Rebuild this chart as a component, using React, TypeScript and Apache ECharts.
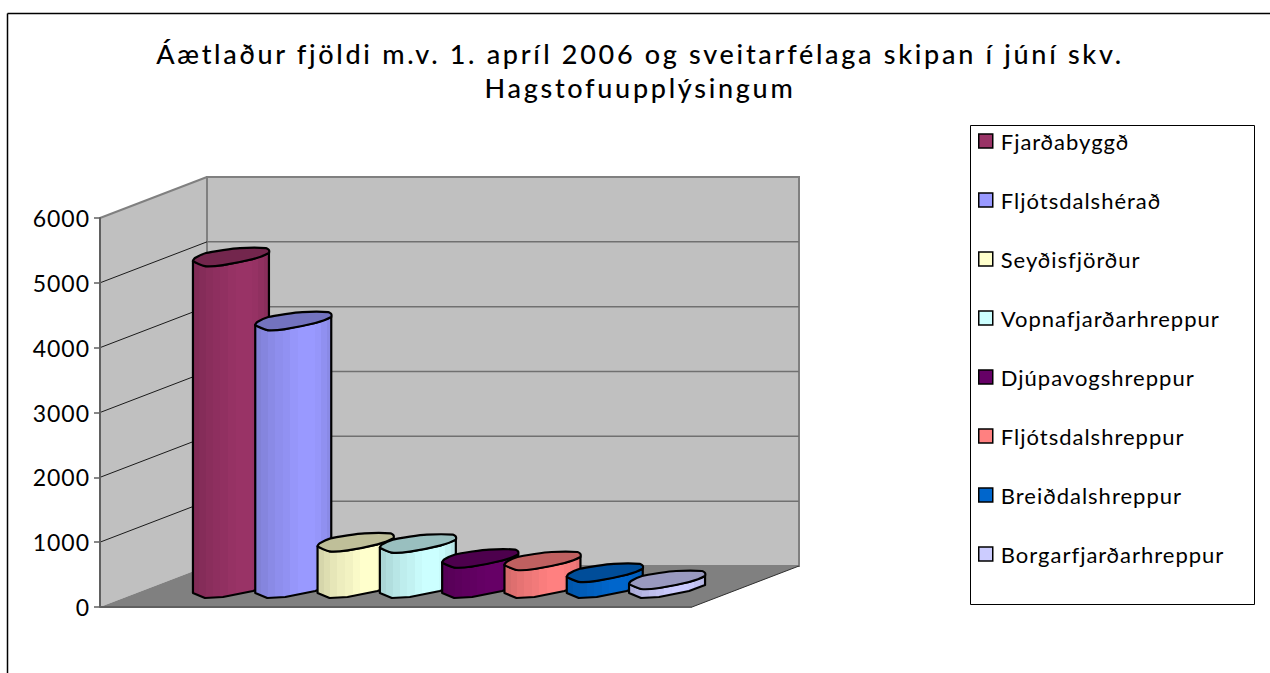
import React, { useEffect, useRef } from "react";
import * as echarts from "echarts";

const titleText = "Áætlaður fjöldi m.v. 1. apríl 2006 og sveitarfélaga skipan í júní skv.\nHagstofuupplýsingum";
const municipalities = ["Fjarðabyggð", "Fljótsdalshérað", "Seyðisfjörður", "Vopnafjarðarhreppur", "Djúpavogshreppur", "Fljótsdalshreppur", "Breiðdalshreppur", "Borgarfjarðarhreppur"];
const population = [5120, 4133, 720, 700, 470, 432, 250, 139];
const barColors = ["#993366", "#9999FF", "#FFFFCC", "#CCFFFF", "#660066", "#FF8080", "#0066CC", "#CCCCFF"];
const yTicks = [0, 1000, 2000, 3000, 4000, 5000, 6000];

const GRID = { left: 100, top: 218, width: 592, height: 389 };
const DEPTH_X = 107;
const DEPTH_Y = 41;
const SLOT = 62.3;
const FONT = "Lato";

// bar cross-section relative to its centre
const backEdge = [[-38, 5], [-36, 2], [-25, -3], [-8, -6], [9, -8], [35, -8], [38, -6]];
const frontEdge = [[38, -3], [22, 3], [-8, 9], [-26, 10], [-38, 5]];

function shade(hex: string, f: number) {
  const n = parseInt(hex.slice(1), 16);
  const c = [(n >> 16) & 255, (n >> 8) & 255, n & 255].map((v) => Math.round(v * f));
  return `rgb(${c[0]},${c[1]},${c[2]})`;
}

function bandedFill(hex: string) {
  const bands = [0.84, 0.87, 0.9, 0.93, 0.95, 0.98, 1, 1, 0.98, 0.94, 0.9];
  const widths = [0.08, 0.09, 0.09, 0.1, 0.1, 0.1, 0.12, 0.1, 0.08, 0.08, 0.06];
  const stops: any[] = [];
  let at = 0;
  bands.forEach((f, i) => {
    const end = Math.min(1, at + widths[i]);
    stops.push({ offset: at, color: shade(hex, f) });
    stops.push({ offset: end, color: shade(hex, f) });
    at = end;
  });
  return new echarts.graphic.LinearGradient(0, 0, 1, 0, stops);
}

const wallSeries = {
  type: "custom",
  silent: true,
  z: 1,
  data: [[0, 0]],
  renderItem: (_: any, api: any) => {
    const [cx, y0] = api.coord([0, 0]);
    const [, yMax] = api.coord([0, 6000]);
    const band = api.size([1, 0])[0];
    const x0 = cx - band / 2;
    const x1 = cx + band / 2;
    const bx0 = x0 + DEPTH_X;
    const bx1 = x1 + DEPTH_X;
    const children: any[] = [
      { type: "polygon", shape: { points: [[x0, y0], [x0, yMax], [bx0, yMax - DEPTH_Y], [bx0, y0 - DEPTH_Y]] }, style: { fill: "#C0C0C0" } },
      { type: "polygon", shape: { points: [[bx0, y0 - DEPTH_Y], [bx0, yMax - DEPTH_Y], [bx1, yMax - DEPTH_Y], [bx1, y0 - DEPTH_Y]] }, style: { fill: "#C0C0C0", stroke: "#808080", lineWidth: 2 } },
      { type: "polygon", shape: { points: [[x0, y0], [bx0, y0 - DEPTH_Y], [bx1, y0 - DEPTH_Y], [x1, y0]] }, style: { fill: "#808080" } },
      { type: "line", shape: { x1: x0, y1: yMax, x2: bx0, y2: yMax - DEPTH_Y }, style: { stroke: "#808080", lineWidth: 2 } },
      { type: "line", shape: { x1: x1, y1: y0, x2: bx1, y2: y0 - DEPTH_Y }, style: { stroke: "#303030", lineWidth: 1 } },
      { type: "line", shape: { x1: x0, y1: y0, x2: x1, y2: y0 }, style: { stroke: "#606060", lineWidth: 2 } },
    ];
    yTicks.slice(1, -1).forEach((t) => {
      const [, y] = api.coord([0, t]);
      children.push({ type: "line", shape: { x1: x0, y1: y, x2: bx0, y2: y - DEPTH_Y }, style: { stroke: "#1a1a1a", lineWidth: 1 } });
      children.push({ type: "line", shape: { x1: bx0, y1: y - DEPTH_Y, x2: bx1, y2: y - DEPTH_Y }, style: { stroke: "#707070", lineWidth: 1.5 } });
    });
    return { type: "group", children };
  },
};

const barSeries = municipalities.map((name, idx) => ({
  type: "custom",
  name,
  silent: true,
  z: 2 + idx,
  clip: false,
  itemStyle: { color: barColors[idx], borderColor: "#000", borderWidth: 1.5 },
  data: [[0, population[idx]]],
  renderItem: (_: any, api: any) => {
    const [cx, yTop] = api.coord([0, api.value(1)]);
    const [, yBase] = api.coord([0, 0]);
    const xc = cx + DEPTH_X / 2 - 0.5 + (idx - 3.5) * SLOT;
    const top = yTop - 19;
    const base = yBase - 19;
    const at = (p: number[], y: number) => [xc + p[0], y + p[1]];
    const side = [...frontEdge.map((p) => at(p, top)), ...[...frontEdge].reverse().map((p) => at(p, base))];
    const face = [...backEdge.map((p) => at(p, top)), ...frontEdge.slice(0, -1).map((p) => at(p, top))];
    const stroke = { stroke: "#000", lineWidth: 2.2, lineJoin: "round" };
    return {
      type: "group",
      children: [
        { type: "polygon", shape: { points: side }, style: { fill: bandedFill(barColors[idx]), ...stroke } },
        { type: "polygon", shape: { points: face, smooth: 0.2 }, style: { fill: shade(barColors[idx], 0.75), ...stroke } },
      ],
    };
  },
}));

export default function App() {
  const ref = useRef<HTMLDivElement>(null);
  useEffect(() => {
    const chart = echarts.init(ref.current!, undefined, { renderer: "svg" });
    chart.setOption({
      animation: false,
      backgroundColor: "#fff",
      title: {
        text: titleText,
        left: 635,
        top: 31,
        textAlign: "center",
        textStyle: { fontFamily: FONT, fontSize: 27, fontWeight: 500, color: "#000", lineHeight: 34 },
      },
      grid: GRID,
      xAxis: { type: "category", data: [""], show: false },
      yAxis: {
        type: "value",
        min: 0,
        max: 6000,
        interval: 1000,
        splitLine: { show: false },
        axisLine: { show: true, lineStyle: { color: "#606060", width: 2 } },
        axisTick: { show: true, length: 6, lineStyle: { color: "#606060", width: 1.5 } },
        axisLabel: { color: "#000", fontFamily: FONT, fontSize: 23, margin: 10, formatter: (v: number) => String(v) },
        z: 1,
      },
      legend: {
        orient: "vertical",
        left: 978,
        top: 127,
        padding: 0,
        itemWidth: 14,
        itemHeight: 14,
        itemGap: 31,
        selectedMode: false,
        icon: "rect",
        data: municipalities,
        textStyle: { fontFamily: FONT, fontSize: 22, color: "#000", lineHeight: 24, padding: [0, 0, 4, 3] },
        itemStyle: { borderColor: "#000", borderWidth: 1.5 },
      },
      graphic: [
        { type: "line", shape: { x1: 7.5, y1: 673, x2: 7.5, y2: 13.5 }, style: { stroke: "#000", lineWidth: 1.5 }, z: 0 },
        { type: "line", shape: { x1: 7.5, y1: 13.5, x2: 1270, y2: 13.5 }, style: { stroke: "#000", lineWidth: 1.5 }, z: 0 },
        { type: "rect", shape: { x: 970.5, y: 125.5, width: 284, height: 479 }, style: { fill: "#fff", stroke: "#000", lineWidth: 1 }, z: 0 },
      ],
      series: [wallSeries, ...barSeries],
    });
    // the reference's texts are spaced wider than any installed font's defaults
    ref.current!.querySelectorAll("text").forEach((t) => {
      const s = (t.getAttribute("style") || "") + (t.getAttribute("font-size") || "");
      const spacing = /\b27px/.test(s) ? "2.7px" : "1px";
      (t as SVGTextElement).style.letterSpacing = spacing;
    });
    return () => chart.dispose();
  }, []);
  return <div ref={ref} style={{ position: "absolute", left: 0, top: 0, width: 1270, height: 673 }} />;
}
